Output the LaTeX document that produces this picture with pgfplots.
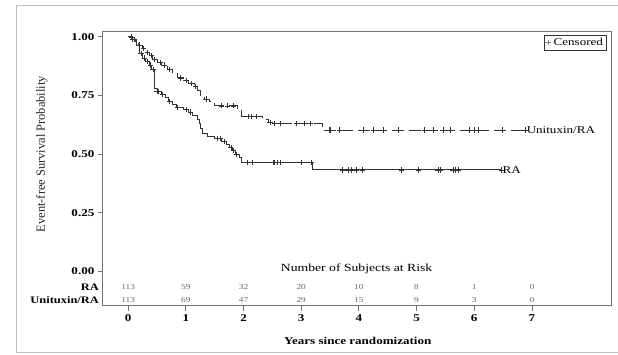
\documentclass[border=0pt]{standalone}
\usepackage{pgfplots}
\pgfplotsset{compat=1.18}
\usepackage{fontspec}
\setmainfont{Liberation Serif}[FakeStretch=1.25]
\newfontfamily\plainserif{Liberation Serif}
\definecolor{curve}{gray}{0.2}
\definecolor{framec}{gray}{0.75}
\definecolor{boxc}{gray}{0.45}
\begin{document}
\begin{tikzpicture}
\begin{axis}[width=509bp, height=274bp, scale only axis,
  xmin=-0.44, xmax=8.38, ymin=-0.146, ymax=1.021,
  xtick={0,...,7}, ytick={0,0.25,0.5,0.75,1},
  tick align=outside, xtick pos=bottom, ytick pos=left, major tick length=5bp,
  yticklabel style={/pgf/number format/.cd, fixed, fixed zerofill, precision=2},
  /pgf/number format/assume math mode=true,
  ticklabel style={font=\fontsize{10.5}{12}\selectfont\bfseries},
  axis line style={boxc, line width=1bp}, tick style={boxc, line width=0.8bp},
  clip=false,
  legend style={at={(0.99,0.989)}, anchor=north east, draw=black!80, line width=0.8bp,
    font=\fontsize{10.5}{12}\selectfont, inner sep=1bp, row sep=0pt},
  legend cell align=left,
]
% overall picture extent and outer frame
\path (axis cs:-2.2236,-0.35477) rectangle (axis cs:8.4861,1.15716);
\draw[framec, line width=0.8bp] (axis cs:8.4861,1.13586) -- (axis cs:-1.9463,1.13586)
  -- (axis cs:-1.9463,-0.34625) -- (axis cs:8.4861,-0.34625);
% RA (solid)
\addplot[const plot, curve, line width=0.9bp, forget plot] coordinates {
(0,1) (0.08,0.99) (0.14,0.965) (0.2,0.93) (0.25,0.91) (0.3,0.895) (0.36,0.88) (0.41,0.862)
(0.45,0.78) (0.5,0.767) (0.58,0.755) (0.64,0.74) (0.7,0.725) (0.76,0.712) (0.84,0.70)
(0.95,0.69) (1.04,0.68) (1.12,0.665) (1.2,0.646) (1.23,0.63) (1.26,0.61) (1.29,0.59)
(1.38,0.575) (1.5,0.568) (1.62,0.555) (1.7,0.54) (1.75,0.53) (1.8,0.515) (1.86,0.50)
(1.92,0.485) (1.97,0.464) (3.2,0.433) (6.47,0.433)};
\addplot[only marks, mark=+, mark size=2.6bp, curve, line width=0.7bp, forget plot] coordinates {
(0.05,1) (0.1,0.99) (0.22,0.93) (0.28,0.91) (0.33,0.895) (0.38,0.88) (0.43,0.862)
(0.5,0.767) (0.53,0.767) (0.6,0.755) (0.72,0.725) (0.85,0.70) (1.0,0.69) (1.08,0.68)
(1.55,0.568) (1.6,0.568) (1.67,0.555) (1.78,0.53) (1.82,0.515) (1.88,0.50)
(2.06,0.464) (2.16,0.464) (2.51,0.464) (2.54,0.464) (2.58,0.464) (2.63,0.464) (3.01,0.464) (3.17,0.464)
(3.72,0.433) (3.81,0.433) (3.87,0.433) (3.95,0.433) (4.06,0.433) (4.74,0.433) (5.03,0.433)
(5.37,0.433) (5.41,0.433) (5.63,0.433) (5.67,0.433) (5.72,0.433) (6.47,0.433)};
% Unituxin/RA (dashed)
\addplot[const plot, curve, line width=0.9bp, dash pattern=on 12bp off 5bp, forget plot] coordinates {
(0,1) (0.06,0.99) (0.12,0.98) (0.18,0.965) (0.24,0.95) (0.3,0.935) (0.36,0.92) (0.42,0.905)
(0.5,0.89) (0.58,0.88) (0.68,0.86) (0.76,0.845) (0.85,0.825) (0.95,0.815) (1.05,0.80)
(1.15,0.79) (1.2,0.77) (1.25,0.752) (1.32,0.735) (1.4,0.724) (1.5,0.706) (1.9,0.685)
(1.97,0.66) (2.33,0.648) (2.43,0.635) (2.5,0.632) (3.36,0.603) (6.89,0.603)};
\addplot[only marks, mark=+, mark size=2.6bp, curve, line width=0.7bp, forget plot] coordinates {
(0.08,0.99) (0.1,0.99) (0.2,0.965) (0.27,0.95) (0.33,0.935) (0.4,0.92) (0.45,0.905)
(0.55,0.89) (0.62,0.88) (0.72,0.86) (0.9,0.825) (1.0,0.815) (1.1,0.80) (1.17,0.79) (1.35,0.735)
(1.62,0.706) (1.72,0.706) (1.82,0.706) (2.08,0.66) (2.14,0.66) (2.23,0.66)
(2.46,0.635) (2.54,0.632) (2.63,0.632) (2.92,0.632) (3.05,0.632) (3.16,0.632)
(3.48,0.603) (3.51,0.603) (3.66,0.603) (4.08,0.603) (4.25,0.603) (4.43,0.603) (4.68,0.603)
(5.14,0.603) (5.29,0.603) (5.46,0.603) (5.58,0.603) (5.92,0.603) (6.01,0.603) (6.07,0.603)
(6.49,0.603) (6.89,0.603)};
\addlegendimage{only marks, mark=+, mark size=2.6bp, black!50}
\addlegendentry{\hspace{1bp}Censored}
% number at risk
\addplot[draw=none, mark=none, forget plot, nodes near coords, point meta=explicit symbolic,
  nodes near coords style={anchor=center, inner sep=0pt, text=black!60, font=\fontsize{7.5}{8}\selectfont}]
  table[meta=n] {
x y n
0 -0.068 113
1 -0.068 59
2 -0.068 32
3 -0.068 20
4 -0.068 10
5 -0.068 8
6 -0.068 1
7 -0.068 0
0 -0.1205 113
1 -0.1205 69
2 -0.1205 47
3 -0.1205 29
4 -0.1205 15
5 -0.1205 9
6 -0.1205 3
7 -0.1205 0
};
\node[anchor=west, inner sep=1bp, font=\fontsize{10.5}{12}\selectfont] at (axis cs:6.89,0.603) {Unituxin/RA};
\node[anchor=west, inner sep=1bp, font=\fontsize{10.5}{12}\selectfont] at (axis cs:6.47,0.433) {RA};
\node[font=\fontsize{11}{13}\selectfont] at (axis cs:3.96,0.0115) {Number of Subjects at Risk};
\node[anchor=east, inner sep=0pt, font=\fontsize{10}{12}\selectfont\bfseries] at (axis cs:-0.505,-0.068) {RA};
\node[anchor=east, inner sep=0pt, font=\fontsize{10}{12}\selectfont\bfseries] at (axis cs:-0.505,-0.1205) {Unituxin/RA};
\node[font=\fontsize{10.5}{12}\selectfont\bfseries] at (axis cs:3.98,-0.298) {Years since randomization};
\node[rotate=90, text=black!85, font=\plainserif\fontsize{12.5}{14}\selectfont] at (axis cs:-1.496,0.5) {Event-free Survival Probability};
\end{axis}
\end{tikzpicture}
\end{document}
